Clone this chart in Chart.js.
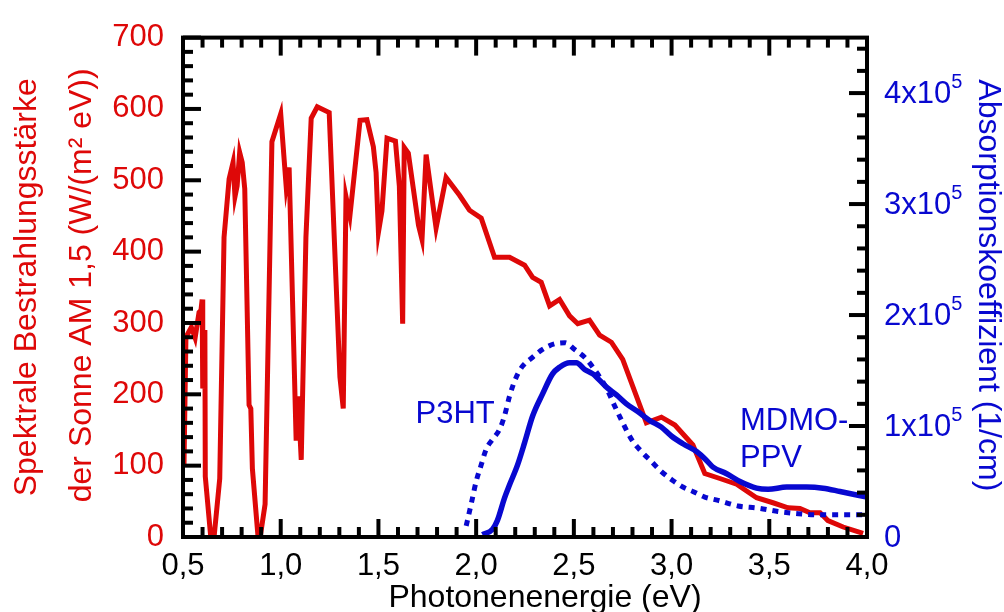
<!DOCTYPE html>
<html><head><meta charset="utf-8">
<script src="https://cdn.jsdelivr.net/npm/chart.js@4"></script>
<style>html,body{margin:0;padding:0;background:#fff}#wrap{width:1004px;height:612px;position:relative}</style>
</head><body><div id="wrap"><canvas id="c" width="1004" height="612"></canvas></div>
<script>
// ---- data ----
const solarE = [0.505,0.515,0.543,0.562,0.582,0.592,0.598,0.601,0.612,0.614,0.642,0.659,0.688,0.71,0.736,0.756,0.766,0.777,0.79,0.803,0.816,0.838,0.847,0.855,0.884,0.895,0.92,0.955,1.0,1.028,1.043,1.079,1.089,1.105,1.129,1.156,1.187,1.248,1.303,1.32,1.334,1.354,1.406,1.441,1.474,1.488,1.5,1.518,1.544,1.587,1.607,1.624,1.632,1.653,1.705,1.723,1.744,1.795,1.846,1.915,1.966,2.026,2.094,2.171,2.248,2.289,2.333,2.376,2.427,2.478,2.52,2.58,2.632,2.692,2.75,2.871,2.948,3.017,3.109,3.17,3.247,3.333,3.435,3.519,3.596,3.657,3.708,3.76,3.8,3.878,3.98];
const solarW = [100,280,294,279,315,318,333,208,290,85,0,0,82,420,502,525,477,492,539,525,488,185,180,96,0,0,46,554,593,491,518,135,197,108,420,587,603,595,224,180,477,450,584,585,547,511,427,457,559,555,492,299,546,538,437,417,536,433,504,479,458,447,392,392,381,364,357,324,333,310,299,304,283,273,249,160,168,157,129,89,82,74,55,48,41,40,34,34,23,14,5];
// absorption coefficients in units of 1e5 1/cm
const mdmoE = [2.032,2.084,2.109,2.145,2.171,2.212,2.248,2.289,2.34,2.391,2.427,2.478,2.513,2.555,2.597,2.667,2.718,2.769,2.827,2.888,2.948,2.999,3.058,3.128,3.179,3.212,3.282,3.35,3.435,3.494,3.589,3.69,3.775,3.862,4.0];
const mdmoA = [0.02,0.07,0.15,0.35,0.47,0.65,0.85,1.09,1.29,1.47,1.53,1.57,1.57,1.51,1.47,1.35,1.28,1.2,1.13,1.05,0.99,0.91,0.84,0.77,0.69,0.63,0.57,0.5,0.44,0.43,0.45,0.45,0.44,0.41,0.36];
const p3htE = [1.949,1.975,2.0,2.026,2.051,2.084,2.12,2.145,2.171,2.205,2.238,2.289,2.34,2.401,2.455,2.504,2.555,2.597,2.667,2.709,2.75,2.795,2.846,2.897,2.948,3.006,3.058,3.109,3.17,3.238,3.34,3.443,3.545,3.648,3.75,3.852,4.0];
const p3htA = [0.1,0.3,0.5,0.65,0.79,0.88,0.97,1.09,1.27,1.44,1.54,1.62,1.69,1.74,1.75,1.69,1.62,1.53,1.34,1.18,1.03,0.88,0.77,0.68,0.59,0.51,0.45,0.41,0.36,0.33,0.28,0.26,0.23,0.21,0.2,0.2,0.2];
const xMajorStep = 0.5, xMinorStep = 0.1;
const yMajorStep = 100, yMinorStep = 20;
const y2MajorStep = 1, y2MinorStep = 0.2;
const y2TickValues = [0, 1, 2, 3, 4];
const y2Exponent = '5';
const titleX = 'Photonenenergie (eV)';
const titleY = ['Spektrale Bestrahlungsstärke', 'der Sonne AM 1,5 (W/(m² eV))'];
const titleY2 = 'Absorptionskoeffizient (1/cm)';
const labelP3HT = 'P3HT';
const labelMDMO = ['MDMO-', 'PPV'];

const RED = '#de0808', BLUE = '#0808d0';
const FONT = '"Liberation Sans", Arial, sans-serif';

const pts = (xs, ys) => xs.map((v, i) => ({x: v, y: ys[i]}));

const framePlugin = {
  id: 'frame',
  afterDatasetsDraw(chart) {
    const {ctx, chartArea: a, scales: {x, y, y2}} = chart;
    ctx.save();
    ctx.strokeStyle = '#000';
    ctx.lineWidth = 4;
    ctx.lineCap = 'butt';
    const seg = (x1, y1, x2, y2_) => { ctx.beginPath(); ctx.moveTo(x1, y1); ctx.lineTo(x2, y2_); ctx.stroke(); };
    const near = (v, s) => Math.abs(v / s - Math.round(v / s)) < 1e-6;
    const MAJ = 18, MIN = 10;
    for (let v = x.min; v <= x.max + 1e-9; v += xMinorStep) {
      const p = x.getPixelForValue(v);
      const L = near(v, xMajorStep) ? MAJ : MIN;
      seg(p, a.bottom, p, a.bottom - L);
      seg(p, a.top, p, a.top + L);
    }
    for (let v = y.min; v <= y.max + 1e-9; v += yMinorStep) {
      const p = y.getPixelForValue(v);
      const L = near(v, yMajorStep) ? MAJ : MIN;
      seg(a.left, p, a.left + L, p);
    }
    for (let v = y2.min; v <= y2.max + 1e-9; v += y2MinorStep) {
      const p = y2.getPixelForValue(v);
      const L = near(v, y2MajorStep) ? MAJ : MIN;
      seg(a.right, p, a.right - L, p);
    }
    ctx.lineWidth = 4;
    ctx.strokeRect(a.left, a.top, a.right - a.left, a.bottom - a.top);

    // right axis tick labels with superscript exponent
    ctx.fillStyle = BLUE;
    ctx.textAlign = 'left';
    ctx.textBaseline = 'middle';
    y2TickValues.forEach(v => {
      const p = y2.getPixelForValue(v);
      const lx = a.right + 17;
      ctx.font = '31px ' + FONT;
      if (v === 0) { ctx.fillText('0', lx, p + 1); return; }
      const main = v + 'x10';
      ctx.fillText(main, lx, p + 1);
      const w = ctx.measureText(main).width;
      ctx.font = '20px ' + FONT;
      ctx.fillText(y2Exponent, lx + w, p - 11);
    });

    // annotations
    ctx.font = '31px ' + FONT;
    ctx.textBaseline = 'alphabetic';
    ctx.fillText(labelP3HT, x.getPixelForValue(1.69), y2.getPixelForValue(1.03));
    ctx.fillText(labelMDMO[0], x.getPixelForValue(3.35), y2.getPixelForValue(0.96));
    ctx.fillText(labelMDMO[1], x.getPixelForValue(3.35), y2.getPixelForValue(0.635));

    // axis titles
    ctx.textAlign = 'center';
    ctx.fillStyle = '#000';
    ctx.font = '32px ' + FONT;
    ctx.fillText(titleX, 545, 607);
    const cy = (a.top + a.bottom) / 2;
    ctx.fillStyle = RED;
    ctx.textBaseline = 'middle';
    ctx.save(); ctx.translate(27, cy); ctx.rotate(-Math.PI / 2); ctx.fillText(titleY[0], 0, 0); ctx.restore();
    ctx.save(); ctx.translate(82, cy - 2); ctx.rotate(-Math.PI / 2); ctx.fillText(titleY[1], 0, 0); ctx.restore();
    ctx.fillStyle = BLUE;
    ctx.save(); ctx.translate(988, cy - 2); ctx.rotate(Math.PI / 2); ctx.fillText(titleY2, 0, 0); ctx.restore();
    ctx.restore();
  }
};

new Chart(document.getElementById('c'), {
  type: 'line',
  data: {
    datasets: [
      {data: pts(solarE, solarW), yAxisID: 'y', borderColor: RED, borderWidth: 5, pointRadius: 0, tension: 0, order: 3, borderJoinStyle: 'miter'},
      {data: pts(p3htE, p3htA), yAxisID: 'y2', borderColor: BLUE, borderWidth: 5, pointRadius: 0, cubicInterpolationMode: 'monotone', borderDash: [6, 6], order: 2},
      {data: pts(mdmoE, mdmoA), yAxisID: 'y2', borderColor: BLUE, borderWidth: 5.5, pointRadius: 0, cubicInterpolationMode: 'monotone', order: 1}
    ]
  },
  options: {
    responsive: false, animation: false, devicePixelRatio: 1,
    layout: {padding: {top: 25, left: 0, right: 0, bottom: 0}},
    plugins: {legend: {display: false}, tooltip: {enabled: false}},
    scales: {
      x: {
        type: 'linear', position: 'bottom', min: 0.5, max: 4.0,
        grid: {display: false, drawTicks: false}, border: {display: false},
        ticks: {stepSize: xMajorStep, color: '#000', font: {family: FONT, size: 31}, padding: 11, maxRotation: 0,
          callback: v => v.toFixed(1).replace('.', ',')},
        afterFit: s => { s.height = 75; }
      },
      y: {
        position: 'left', min: 0, max: 700,
        grid: {display: false, drawTicks: false}, border: {display: false},
        ticks: {stepSize: yMajorStep, color: RED, font: {family: FONT, size: 31}, padding: 19},
        afterFit: s => { s.width = 183; }
      },
      y2: {
        position: 'right', min: 0, max: 4.5,
        grid: {display: false, drawTicks: false}, border: {display: false},
        ticks: {display: false, stepSize: y2MajorStep, includeBounds: false},
        afterFit: s => { s.width = 137; }
      }
    }
  },
  plugins: [framePlugin]
});
</script></body></html>
